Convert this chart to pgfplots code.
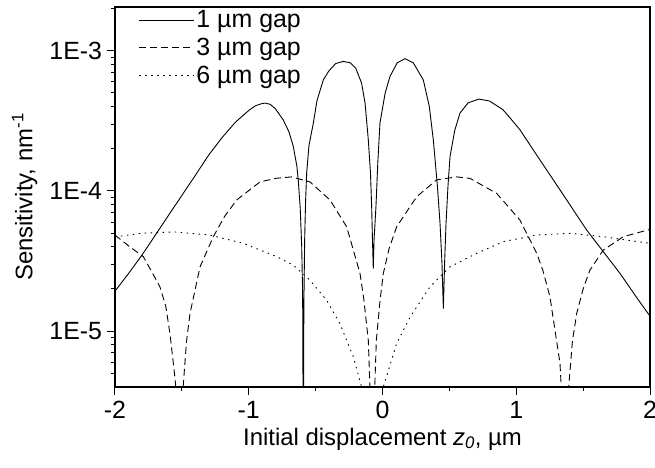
\documentclass[border=0pt]{standalone}
\usepackage{pgfplots}
\pgfplotsset{compat=1.18}
\usepackage{fontspec}
\setmainfont{Liberation Sans}

\begin{document}
\begin{tikzpicture}
\path[use as bounding box] (-115bp,-81bp) rectangle (540bp,387bp);
\begin{axis}[
  at={(0,0)}, anchor=south west,
  scale only axis, width=535bp, height=380bp,
  ymode=log,
  xmin=-2, xmax=2, ymin=4e-6, ymax=2.05e-3,
  xtick={-2,-1,0,1,2}, xticklabels={-2,-1,0,1,2},
  minor xtick={-1.5,-0.5,0.5,1.5},
  ytick={1e-5,1e-4,1e-3}, yticklabels={1E-5,1E-4,1E-3},
  minor ytick={5e-6,6e-6,7e-6,8e-6,9e-6,2e-5,3e-5,4e-5,5e-5,6e-5,7e-5,8e-5,9e-5,2e-4,3e-4,4e-4,5e-4,6e-4,7e-4,8e-4,9e-4,2e-3},
  xtick pos=bottom, ytick pos=left, tick align=outside,
  major tick length=8bp, minor tick length=4bp,
  tick style={line width=1bp, black},
  axis line style={line width=1.2bp},
  every axis/.append style={line width=1.2bp},
  yticklabel style={font=\fontsize{25}{29}\selectfont, xshift=-1bp},
  xticklabel style={font=\fontsize{25}{29}\selectfont, yshift=-2bp},
  /pgf/number format/assume math mode=true,
  xlabel={Initial displacement \textit{z}\textsubscript{\textit{0}}, µm},
  ylabel={Sensitivity, nm\textsuperscript{-1}},
  label style={font=\fontsize{24}{28}\selectfont},
  xlabel style={yshift=-2bp},
  ylabel style={yshift=5bp},
  legend style={at={(0.043,0.997)}, anchor=north west, draw=none, fill=none,
    font=\fontsize{25}{29}\selectfont, row sep=5bp, inner sep=0bp,
    cells={anchor=west}},
  legend image code/.code={\draw[#1] (0bp,0bp) -- (55bp,0bp);},
]
\addplot[black, line width=0.9bp] table {
x y
-2.0 1.93e-5
-1.9 2.57e-5
-1.8 3.47e-5
-1.7 4.82e-5
-1.6 6.7e-5
-1.5 9.29e-5
-1.4 1.29e-4
-1.3 1.80e-4
-1.2 2.40e-4
-1.1 3.09e-4
-1.0 3.75e-4
-0.95 4.05e-4
-0.9 4.2e-4
-0.878 4.23e-4
-0.84 4.15e-4
-0.8 3.85e-4
-0.742 3.21e-4
-0.7 2.65e-4
-0.667 2.08e-4
-0.64 1.5e-4
-0.63 1.2e-4
-0.615 7.5e-5
-0.604 4.0e-5
-0.597 1.8e-5
-0.592 1e-6
-0.588 1.5e-5
-0.582 4.5e-5
-0.575 8.5e-5
-0.567 1.34e-4
-0.55 2.1e-4
-0.517 3.05e-4
-0.49 4.4e-4
-0.442 6.21e-4
-0.40 7.2e-4
-0.35 8.1e-4
-0.293 8.39e-4
-0.24 8.2e-4
-0.20 7.5e-4
-0.156 5.87e-4
-0.13 4.2e-4
-0.106 2.31e-4
-0.09 1.35e-4
-0.081 7.73e-5
-0.075 4.5e-5
-0.069 2.8e-5
-0.063 4.5e-5
-0.049 7.7e-5
-0.035 1.6e-4
-0.019 3.05e-4
0.02 5.0e-4
0.056 6.56e-4
0.11 8.2e-4
0.168 8.77e-4
0.23 8.2e-4
0.305 6.2e-4
0.35 4.0e-4
0.38 2.31e-4
0.41 1.1e-4
0.43 5.9e-5
0.445 3e-5
0.455 1.45e-5
0.465 3.2e-5
0.475 5.9e-5
0.49 1.1e-4
0.505 1.76e-4
0.54 2.7e-4
0.579 3.59e-4
0.64 4.25e-4
0.72 4.52e-4
0.8 4.38e-4
0.9 3.8e-4
0.95 3.35e-4
1.028 2.73e-4
1.15 1.82e-4
1.277 1.2e-4
1.4 8.0e-5
1.527 5.26e-5
1.65 3.7e-5
1.776 2.58e-5
1.9 1.74e-5
2.0 1.28e-5
};
\addlegendentry{1 µm gap}
\addplot[black, line width=0.9bp, dash pattern=on 7bp off 4bp] table {
x y
-2.0 4.85e-5
-1.9 4.07e-5
-1.788 3.4e-5
-1.72 2.6e-5
-1.664 2.07e-5
-1.62 1.5e-5
-1.589 9.6e-6
-1.56 5.5e-6
-1.539 3.5e-6
-1.515 1e-6
-1.489 4.2e-6
-1.465 8.5e-6
-1.439 1.34e-5
-1.40 2.0e-5
-1.364 2.88e-5
-1.265 4.72e-5
-1.18 6.6e-5
-1.09 8.63e-5
-0.916 1.16e-4
-0.8 1.23e-4
-0.68 1.26e-4
-0.542 1.16e-4
-0.393 8.63e-5
-0.268 5.56e-5
-0.168 2.58e-5
-0.14 1.7e-5
-0.106 8.6e-6
-0.094 4e-6
-0.076 1e-6
-0.058 4e-6
-0.046 8.6e-6
-0.02 1.6e-5
0.006 2.58e-5
0.05 3.9e-5
0.106 5.56e-5
0.256 9.1e-5
0.405 1.2e-4
0.555 1.26e-4
0.654 1.23e-4
0.854 9.6e-5
1.028 6.2e-5
1.153 3.59e-5
1.2 2.7e-5
1.252 1.76e-5
1.327 5.9e-6
1.37 1e-6
1.394 4.2e-6
1.42 8.5e-6
1.452 1.34e-5
1.5 2.0e-5
1.551 2.73e-5
1.651 3.79e-5
1.8 4.72e-5
2.0 5.32e-5
};
\addlegendentry{3 µm gap}
\addplot[black, line width=0.9bp, dash pattern=on 1.5bp off 4.5bp] table {
x y
-2.0 4.7e-5
-1.8 5.0e-5
-1.55 5.1e-5
-1.29 4.85e-5
-1.04 4.23e-5
-0.791 3.4e-5
-0.667 2.96e-5
-0.542 2.31e-5
-0.417 1.66e-5
-0.318 1.13e-5
-0.218 6.56e-6
-0.156 4e-6
-0.075 1e-6
0.006 4e-6
0.106 8.2e-6
0.206 1.26e-5
0.355 2.07e-5
0.505 2.88e-5
0.704 3.59e-5
0.903 4.35e-5
1.153 4.85e-5
1.402 4.99e-5
1.651 4.72e-5
2.0 4.23e-5
};
\addlegendentry{6 µm gap}
\end{axis}
\end{tikzpicture}
\end{document}
